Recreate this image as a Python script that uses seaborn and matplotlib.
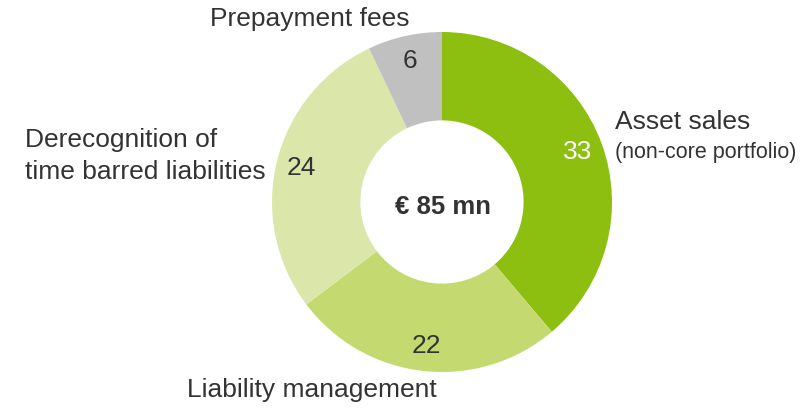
import numpy as np
import seaborn as sns
import matplotlib.pyplot as plt

# data
categories = ['Asset sales', 'Liability management',
              'Derecognition of\ntime barred liabilities', 'Prepayment fees']
values = [33, 22, 24, 6]
total_label = '€ 85 mn'

colors = ['#8cbf10', '#c4da70', '#dbe7aa', '#c0c0c0']
text_color = '#333333'

sns.set_theme(style='white')
plt.rcParams['font.family'] = ['Liberation Sans', 'DejaVu Sans']

fig = plt.figure(figsize=(8.1, 4.11), dpi=100)
ax = fig.add_axes([0, 0, 1, 1])

total = sum(values)
wedges, texts, autotexts = ax.pie(
    values, colors=colors, startangle=90, counterclock=False,
    center=(442, 209), radius=170, frame=True,
    wedgeprops=dict(width=170 * 0.52, linewidth=0),
    autopct=lambda p: '{:.0f}'.format(p * total / 100), pctdistance=0.85,
    textprops=dict(fontsize=19, color=text_color))
ax.set_xlim(0, 810)
ax.set_ylim(0, 411)
ax.set_aspect('equal')
ax.axis('off')
autotexts[0].set_color('white')

# center label
ax.text(443, 204, total_label, ha='center', va='center', fontsize=18.5,
        fontweight='bold', color=text_color)

# category labels
ax.text(615, 289, categories[0], ha='left', va='center', fontsize=19, color=text_color)
ax.text(615, 259, '(non-core portfolio)', ha='left', va='center', fontsize=15.5, color=text_color)
ax.text(187, 21, categories[1], ha='left', va='center', fontsize=19, color=text_color)
ax.text(25, 255, categories[2], ha='left', va='center', fontsize=19, color=text_color,
        linespacing=1.37)
ax.text(210, 392, categories[3], ha='left', va='center', fontsize=19, color=text_color)

fig.savefig('out.png', dpi=100, facecolor='white')
